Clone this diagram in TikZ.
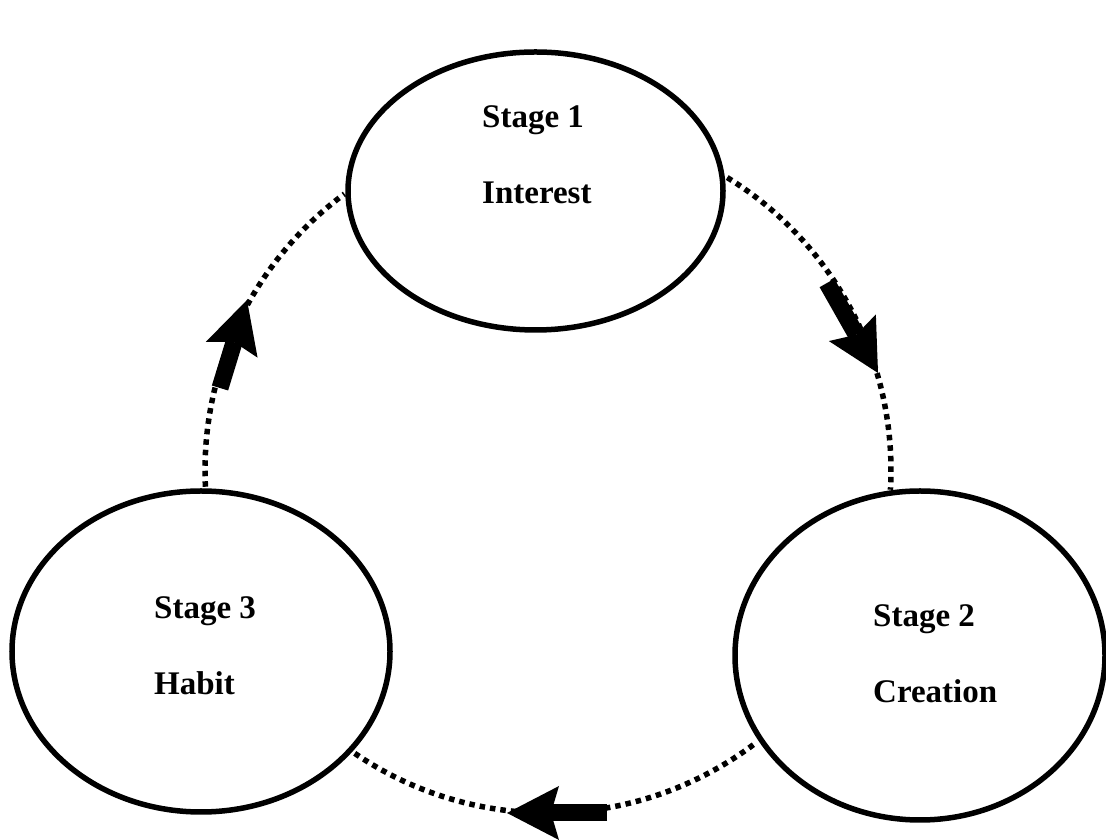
\documentclass[tikz,border=0pt]{standalone}
\usepackage{fontspec}
\setmainfont{Liberation Serif}
\usetikzlibrary{shapes.geometric,arrows.meta}
\begin{document}
\begin{tikzpicture}[x=1pt,y=1pt,
  stage/.style={ellipse, draw=black, line width=5.5pt, inner sep=0pt},
  lbl/.style={anchor=base west, inner sep=0pt, font=\bfseries\fontsize{33}{40}\selectfont},
  dots/.style={line width=5.5pt, dash pattern=on 5.5pt off 5pt},
  bigarrow/.style={line width=17pt, -{Stealth[length=52pt,width=54pt,inset=8pt,line width=0pt]}}]
\useasboundingbox (0,0) rectangle (1106,840);
\fill[white] (0,0) rectangle (1106,840);
% dotted cycle (circle centre and radius)
\coordinate (c) at (548,370);
\draw[dots] ([shift={(58.5:343)}]c) arc[start angle=58.5,end angle=-3.3,radius=343];
\draw[dots] ([shift={(182.8:343)}]c) arc[start angle=182.8,end angle=126.4,radius=343];
\draw[dots] ([shift={(235.7:343)}]c) arc[start angle=235.7,end angle=307.2,radius=343];
% stages
\node[stage, minimum width=375pt, minimum height=278pt] (st1) at (535.5,649) {};
\node[stage, minimum width=378pt, minimum height=321pt] (st3) at (201,188.5) {};
\node[stage, minimum width=370pt, minimum height=329pt] (st2) at (920,184.5) {};
% labels
\node[lbl] (s1) at (482,712) {Stage 1};
\node[lbl] (n1) at (482,636) {Interest};
\node[lbl] (s3) at (154,221) {Stage 3};
\node[lbl] (n3) at (154,145) {Habit};
\node[lbl] (s2) at (873,213) {Stage 2};
\node[lbl] (n2) at (873,137) {Creation};
% arrows
\coordinate (a1s) at (827,557); \coordinate (a1e) at (878,467);
\coordinate (a2s) at (220,452); \coordinate (a2e) at (247,540);
\coordinate (a3s) at (607,27);  \coordinate (a3e) at (507,27);
\draw[bigarrow] (a1s) -- (a1e);
\draw[bigarrow] (a2s) -- (a2e);
\draw[bigarrow] (a3s) -- (a3e);
\end{tikzpicture}
\end{document}
